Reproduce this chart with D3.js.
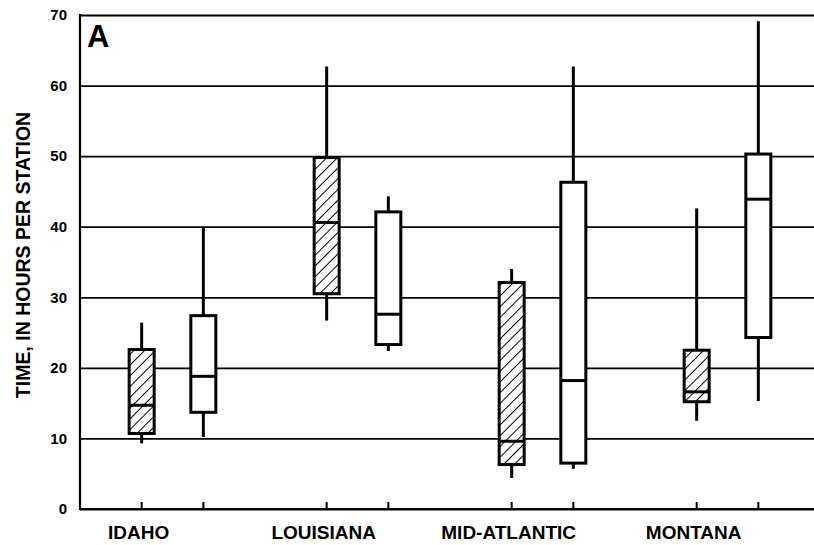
<!DOCTYPE html>
<html>
<head>
<meta charset="utf-8">
<script src="https://cdn.jsdelivr.net/npm/d3@7"></script>
<style>
  html, body { margin: 0; padding: 0; background: #fff; }
  svg { display: block; }
  text { font-family: "Liberation Sans", Arial, Helvetica, sans-serif; font-weight: bold; fill: #000; }
</style>
</head>
<body>
<svg id="chart" width="814" height="545"></svg>
<script>
// ---- data ----
const categories = ["IDAHO", "LOUISIANA", "MID-ATLANTIC", "MONTANA"];
const seriesNames = ["hatched", "open"];
// [whisker low, box low, median, box high, whisker high]
const hatchedStats = [
  [9.3, 10.7, 14.7, 22.6, 26.4],
  [26.7, 30.5, 40.6, 49.8, 62.7],
  [4.4, 6.3, 9.6, 32.1, 34.0],
  [12.5, 15.2, 16.6, 22.5, 42.6]
];
const openStats = [
  [10.2, 13.7, 18.8, 27.4, 39.8],
  [22.4, 23.3, 27.6, 42.1, 44.3],
  [5.7, 6.5, 18.2, 46.3, 62.7],
  [15.3, 24.3, 43.9, 50.3, 69.1]
];
const yTicks = [0, 10, 20, 30, 40, 50, 60, 70];
const yTitle = "TIME, IN HOURS PER STATION";
const panelLabel = "A";

(function () {
// ---- layout ----
const svg = d3.select("#chart");
const mLeft = 80, mRight = 820, mTop = 15, mBottom = 509;

const x = d3.scaleBand().domain(categories).range([mLeft, mRight]).paddingInner(0).paddingOuter(0);
const xs = d3.scalePoint().domain(seriesNames).range([0, x.bandwidth()]).padding(1);
const y = d3.scaleLinear().domain([0, 70]).range([mBottom, mTop]);

const boxes = [];
categories.forEach((c, i) => {
  boxes.push({cat: c, s: "hatched", v: hatchedStats[i]});
  boxes.push({cat: c, s: "open", v: openStats[i]});
});
const cx = d => x(d.cat) + xs(d.s);
const boxW = 25;

// hatch pattern
const defs = svg.append("defs");
const pat = defs.append("pattern")
  .attr("id", "hatch").attr("patternUnits", "userSpaceOnUse")
  .attr("width", 7.6).attr("height", 7.6)
  .attr("patternTransform", "rotate(45)");
pat.append("rect").attr("width", 7.6).attr("height", 7.6).attr("fill", "#fff");
pat.append("line").attr("x1", 0).attr("y1", 0).attr("x2", 0).attr("y2", 7.6)
  .attr("stroke", "#000").attr("stroke-width", 2);

// gridlines
const yAxis = d3.axisLeft(y).tickValues(yTicks).tickSize(-(814 - mLeft)).tickPadding(13).tickFormat(d3.format("d"));
const gy = svg.append("g").attr("transform", `translate(${mLeft},0)`).call(yAxis);
gy.select(".domain").remove();
gy.selectAll(".tick line").attr("stroke", "#000").attr("stroke-width", 1.8);
gy.selectAll(".tick text").style("font-size", "15px").attr("fill", "#000");

// left axis line
svg.append("line").attr("x1", mLeft).attr("x2", mLeft).attr("y1", mTop - 1).attr("y2", mBottom + 1)
  .attr("stroke", "#000").attr("stroke-width", 2.2);
// baseline
svg.append("line").attr("x1", mLeft).attr("x2", 814).attr("y1", mBottom).attr("y2", mBottom)
  .attr("stroke", "#000").attr("stroke-width", 2.2);

// bottom ticks (inward)
svg.append("g").selectAll("line").data(boxes).join("line")
  .attr("x1", cx).attr("x2", cx).attr("y1", mBottom).attr("y2", mBottom - 7)
  .attr("stroke", "#000").attr("stroke-width", 2);

// whiskers
svg.append("g").selectAll("line").data(boxes).join("line")
  .attr("x1", cx).attr("x2", cx)
  .attr("y1", d => y(d.v[0])).attr("y2", d => y(d.v[4]))
  .attr("stroke", "#000").attr("stroke-width", 3);

// boxes
svg.append("g").selectAll("rect").data(boxes).join("rect")
  .attr("x", d => cx(d) - boxW / 2).attr("width", boxW)
  .attr("y", d => y(d.v[3])).attr("height", d => y(d.v[1]) - y(d.v[3]))
  .attr("fill", d => d.s === "hatched" ? "url(#hatch)" : "#fff")
  .attr("stroke", "#000").attr("stroke-width", 3);

// medians
svg.append("g").selectAll("line").data(boxes).join("line")
  .attr("x1", d => cx(d) - boxW / 2).attr("x2", d => cx(d) + boxW / 2)
  .attr("y1", d => y(d.v[2])).attr("y2", d => y(d.v[2]))
  .attr("stroke", "#000").attr("stroke-width", 3);

// category labels
svg.append("g").selectAll("text").data(categories).join("text")
  .attr("x", c => x(c) + xs("hatched") - 3).attr("y", 539)
  .attr("text-anchor", "middle").style("font-size", "19px")
  .text(c => c);

// y title
svg.append("text")
  .attr("transform", "translate(30,255) rotate(-90)")
  .attr("text-anchor", "middle").style("font-size", "19.5px")
  .text(yTitle);

// panel label
svg.append("text").attr("x", 87).attr("y", 47).style("font-size", "31px").style("font-weight", "bold")
  .text(panelLabel);
})();
</script>
</body>
</html>
